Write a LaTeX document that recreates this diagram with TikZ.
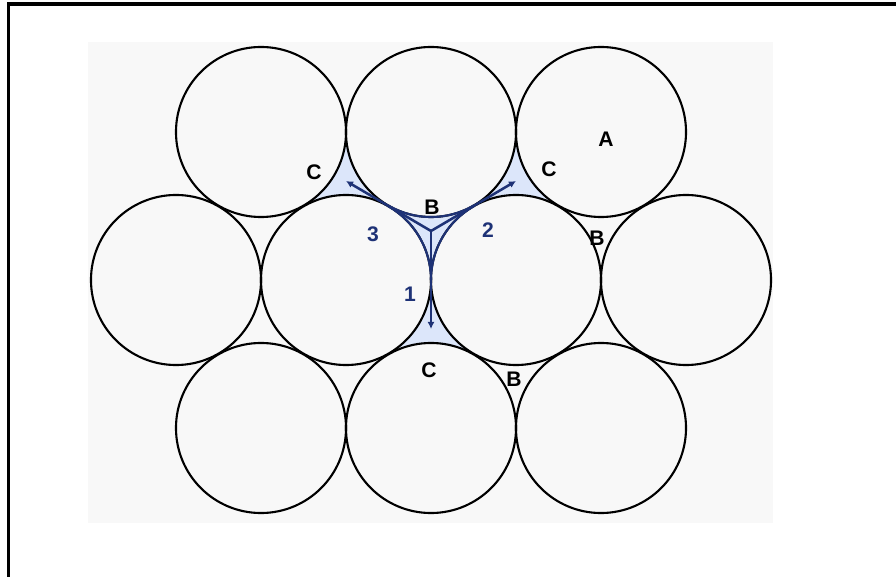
\documentclass[tikz,border=0pt]{standalone}
\usepackage{fontspec}
\setmainfont{Liberation Sans}
\usetikzlibrary{arrows.meta}
\definecolor{pathblue}{RGB}{30,50,118}
\definecolor{holeblue}{RGB}{220,230,250}
\definecolor{sheet}{RGB}{248,248,248}
\begin{document}
\begin{tikzpicture}[x=0.025cm,y=-0.025cm,
  ball/.style={circle,draw=black,line width=1.5pt,minimum size=4.25cm,inner sep=0pt,outer sep=0pt},
  lbl/.style={font=\fontsize{15}{15}\selectfont\bfseries,inner sep=0pt},
  num/.style={lbl,text=pathblue},
  hop/.style={pathblue,line width=1.8pt,-{Latex[length=5pt,width=5pt]}},
  rim/.style={pathblue,line width=1.5pt}]
  \useasboundingbox (0,0) rectangle (896,577);
  % frame, top and left edge only
  \draw[line width=2.2pt] (896,4) -- (8.5,4) -- (8.5,577);
  % sheet behind the balls
  \fill[sheet] (88,42) rectangle (773,523);
  % ball centres (top, middle, bottom row)
  \coordinate (t1) at (261,132);
  \coordinate (t2) at (431,132);
  \coordinate (t3) at (601,132);
  \coordinate (m1) at (176,280);
  \coordinate (m2) at (346,280);
  \coordinate (m3) at (516,280);
  \coordinate (m4) at (686,280);
  \coordinate (b1) at (261,428);
  \coordinate (b2) at (431,428);
  \coordinate (b3) at (601,428);
  % hollow centres
  \coordinate (hB) at (431,231);
  \coordinate (hCl) at (346,181);
  \coordinate (hCr) at (516,181);
  \coordinate (hCb) at (431,329);
  % tinted hollows, then the balls laid over them
  \foreach \a/\b/\c in {t2/m2/m3,t1/t2/m2,t2/t3/m3,m2/m3/b2}
    \fill[holeblue] (\a)--(\b)--(\c)--cycle;
  \foreach \p in {t1,t2,t3,m1,m2,m3,m4,b1,b2,b3}
    \fill[sheet] (\p) circle[radius=2.125cm];
  % balls
  \foreach \p in {t1,t2,t3,m1,m2,m3,m4,b1,b2,b3}
    \node[ball] (ball-\p) at (\p) {};
  % blue rim of hollow B
  \draw[rim] (t2) ++(240:2.125cm) arc[start angle=240,end angle=300,radius=2.125cm];
  \draw[rim] (m2) ++(0:2.125cm) arc[start angle=0,end angle=60,radius=2.125cm];
  \draw[rim] (m3) ++(120:2.125cm) arc[start angle=120,end angle=180,radius=2.125cm];
  % paths from hollow B to the three hollows C
  \draw[hop] (hB) -- (hCl);
  \draw[hop] (hB) -- (hCr);
  \draw[hop] (hB) -- (hCb);
  % labels
  \node[lbl] (lA) at (606,139) {A};
  \node[lbl] (lCl) at (314,172) {C};
  \node[lbl] (lCr) at (549,169) {C};
  \node[lbl] (lBm) at (432,207) {B};
  \node[lbl] (lBr) at (597,238) {B};
  \node[lbl] (lCb) at (429,370) {C};
  \node[lbl] (lBb) at (514,379) {B};
  \node[num] (n3) at (373,234) {3};
  \node[num] (n2) at (488,230) {2};
  \node[num] (n1) at (410,294) {1};
\end{tikzpicture}
\end{document}
